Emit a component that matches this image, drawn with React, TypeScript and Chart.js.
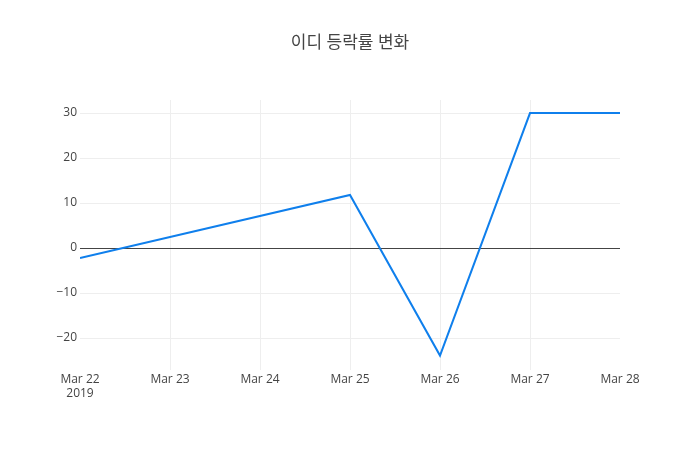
import React, { useEffect, useRef } from "react";
import { Chart, registerables } from "chart.js";

Chart.register(...registerables);

const titleText = "이디 등락률 변화";
const dayLabels = ["Mar 22", "Mar 23", "Mar 24", "Mar 25", "Mar 26", "Mar 27", "Mar 28"];
const dayIndex = [0, 3, 4, 5, 6];
const changeValues = [-2.2, 11.8, -23.9, 30.0, 30.0];
const yTickValues = [-20, -10, 0, 10, 20, 30];
const yMin = -27.1;
const yMax = 32.9;

const FONT = '"Open Sans", "Noto Sans CJK KR", sans-serif';

export default function App() {
  const ref = useRef<HTMLCanvasElement | null>(null);
  useEffect(() => {
    document.body.style.margin = "0";
    if (!ref.current) return;
    const titlePlugin = {
      id: "plotTitle",
      afterDraw(chart: any) {
        const ctx = chart.ctx;
        ctx.save();
        ctx.font = `17px ${FONT}`;
        ctx.fillStyle = "#444";
        ctx.textAlign = "center";
        ctx.textBaseline = "middle";
        ctx.fillText(titleText, 350, 43);
        ctx.restore();
      },
    };
    const chart = new Chart(ref.current, {
      type: "line",
      data: {
        datasets: [
          {
            data: dayIndex.map((d, i) => ({ x: d, y: changeValues[i] })),
            borderColor: "#0f7fec",
            borderWidth: 2,
            pointRadius: 0,
            tension: 0,
            fill: false,
          },
        ],
      },
      options: {
        responsive: false,
        animation: false,
        layout: { padding: { top: 100, right: 80, left: 0, bottom: 0 } },
        plugins: { legend: { display: false }, tooltip: { enabled: false }, title: { display: false } },
        scales: {
          x: {
            type: "linear",
            min: 0,
            max: 6,
            afterBuildTicks: (scale: any) => {
              scale.ticks = dayLabels.map((_, i) => ({ value: i }));
            },
            afterFit: (scale: any) => {
              scale.height = 80;
            },
            border: { display: false },
            grid: {
              color: (c: any) =>
                c.tick && (c.tick.value === 0 || c.tick.value === dayLabels.length - 1) ? "rgba(0,0,0,0)" : "#eee",
              drawTicks: false,
              lineWidth: 1,
            },
            ticks: {
              padding: 2,
              maxRotation: 0,
              autoSkip: false,
              color: "#444",
              font: { family: FONT, size: 12 },
              callback: (v: any) => {
                const i = Math.round(Number(v));
                return i === 0 ? [dayLabels[i], "2019"] : dayLabels[i];
              },
            },
          },
          y: {
            type: "linear",
            min: yMin,
            max: yMax,
            afterBuildTicks: (scale: any) => {
              scale.ticks = yTickValues.map((v) => ({ value: v }));
            },
            afterFit: (scale: any) => {
              scale.width = 80;
            },
            border: { display: false },
            grid: {
              drawTicks: false,
              color: (c: any) => (c.tick && c.tick.value === 0 ? "#444" : "#eee"),
              lineWidth: 1,
            },
            ticks: {
              padding: 3,
              color: "#444",
              font: { family: FONT, size: 12 },
              callback: (v: any) => {
                const n = Number(v);
                return n < 0 ? "\u2212" + Math.abs(n) : String(n);
              },
            },
          },
        },
      },
      plugins: [titlePlugin],
    });
    return () => chart.destroy();
  }, []);
  return (
    <div style={{ width: 700, height: 450, background: "#fff" }}>
      <canvas ref={ref} width={700} height={450} style={{ width: 700, height: 450, display: "block" }} />
    </div>
  );
}
